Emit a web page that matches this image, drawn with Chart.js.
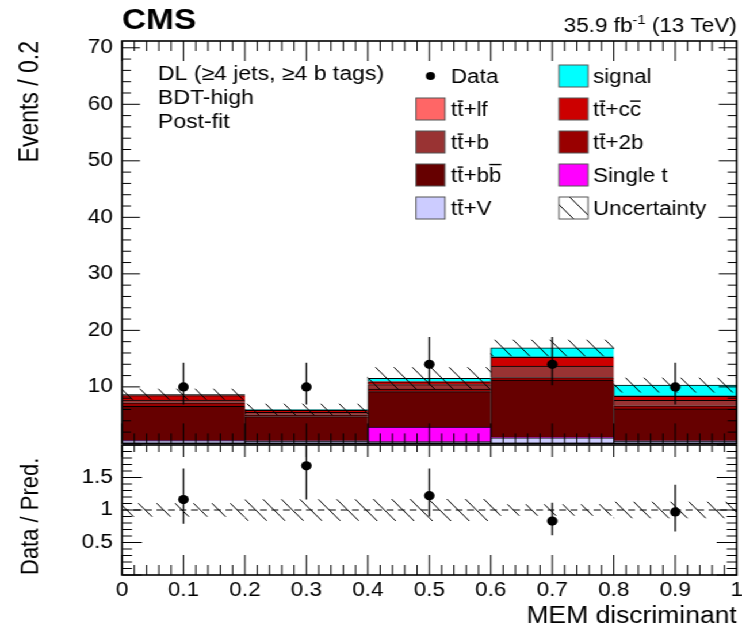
<!DOCTYPE html>
<html><head><meta charset="utf-8">
<script src="https://cdn.jsdelivr.net/npm/chart.js@4.4.1/dist/chart.umd.min.js"></script>
<style>
html,body{margin:0;padding:0;background:#fff;overflow:hidden;}
#wrap{position:absolute;left:0;top:0;width:645px;height:632px;transform-origin:0 0;transform:scaleX(1.150388);}
#wrap canvas{position:absolute;left:0;}
</style></head><body>
<div id="wrap">
<canvas id="cMain" width="645" height="448" style="top:0;width:645px;height:448px"></canvas>
<canvas id="cRatio" width="645" height="192" style="top:440px;width:645px;height:192px"></canvas>
</div>
<script>
// ---------------- data ----------------
const binCenters = [0.1, 0.3, 0.5, 0.7, 0.9];
const xTickLabels = ['0','0.1','0.2','0.3','0.4','0.5','0.6','0.7','0.8','0.9','1'];
const yTickLabels = ['10','20','30','40','50','60','70'];
const ratioTickLabels = ['0.5','1','1.5'];

// stacked components, bottom to top
const ttV     = [0.5, 0.4, 0.3, 1.0, 0.4];
const singleT = [0.05, 0.05, 2.6, 0.1, 0.05];
const ttbb    = [6.0, 4.3, 6.25, 10.1, 5.65];
const tt2b    = [0.65, 0.3, 0.45, 0.45, 0.55];
const ttb     = [0.45, 0.45, 0.8, 2.05, 0.95];
const ttcc    = [0.8, 0.35, 0.5, 1.55, 0.75];
const ttlf    = [0.2, 0.1, 0.05, 0.05, 0.05];
const signal  = [0.05, 0.05, 0.55, 1.6, 1.9];

const predUnc = [0.9, 0.95, 1.9, 1.4, 1.25];

const dataY     = [10, 10, 14, 14, 10];
const dataErrLo = [3.12, 3.12, 3.71, 3.71, 3.12];
const dataErrHi = [4.28, 4.28, 4.84, 4.84, 4.28];

const ratio    = [1.16, 1.68, 1.22, 0.83, 0.97];
const ratioLo  = [0.79, 1.16, 0.90, 0.61, 0.67];
const ratioHi  = [1.64, 2.40, 1.64, 1.11, 1.39];
const ratioUnc = [0.10, 0.16, 0.165, 0.083, 0.12];

const components = [
  {label:'tt\u0304+V',      vals:ttV,     color:'#ccccff'},
  {label:'Single t',        vals:singleT, color:'#ff00ff'},
  {label:'tt\u0304+bb\u0304', vals:ttbb,  color:'#660000'},
  {label:'tt\u0304+2b',     vals:tt2b,    color:'#990000'},
  {label:'tt\u0304+b',      vals:ttb,     color:'#993333'},
  {label:'tt\u0304+cc\u0304', vals:ttcc,  color:'#cc0000'},
  {label:'tt\u0304+lf',     vals:ttlf,    color:'#ff6666'},
  {label:'signal',          vals:signal,  color:'#00ffff'}
];

// ---------------- helpers ----------------
const FF = "'Liberation Sans', Arial, Helvetica, sans-serif";
const SX = 742/645;               // horizontal stretch of the picture
const bx = v => v / SX;           // picture x-distance -> base canvas distance

function makeHatch(canvasId) {
  const w = 16, h = 18;
  const c = document.createElement('canvas'); c.width = w; c.height = h;
  const g = c.getContext('2d');
  g.strokeStyle = '#000'; g.lineWidth = 1;
  g.beginPath();
  for (const dx of [-w, 0, w]) { g.moveTo(dx, 0); g.lineTo(dx + w, h); }
  g.stroke();
  return document.getElementById(canvasId).getContext('2d').createPattern(c, 'repeat');
}

function drawLabel(ctx, str, x, y, size) {
  // draws text; a combining macron (U+0304) becomes an over-bar on the previous glyph
  ctx.font = size + 'px ' + FF;
  ctx.textAlign = 'left'; ctx.textBaseline = 'alphabetic';
  let cx = x;
  const chars = Array.from(str);
  for (let i = 0; i < chars.length; i++) {
    const ch = chars[i];
    if (ch === '\u0304') continue;
    const w = ctx.measureText(ch).width;
    ctx.fillText(ch, cx, y);
    if (chars[i+1] === '\u0304') {
      const by = y - size * (ch === 'b' ? 0.93 : 0.80);
      ctx.fillRect(cx + 0.3, by, w - 0.6, 1.4);
    }
    cx += w;
  }
}

function drawFrame(chart, cfg) {
  const {ctx, chartArea: a} = chart;
  const xs = chart.scales.x, ys = chart.scales.y;
  ctx.save();
  ctx.strokeStyle = '#000';
  ctx.lineWidth = 1;
  ctx.beginPath();
  for (let k = 0; k <= 50; k++) {
    const px = xs.getPixelForValue(k / 50);
    const maj = k % 5 === 0;
    ctx.moveTo(px, a.bottom); ctx.lineTo(px, a.bottom - (maj ? cfg.xMajB : cfg.xMinB));
    ctx.moveTo(px, a.top);    ctx.lineTo(px, a.top + (maj ? cfg.xMajT : cfg.xMinT));
  }
  for (let k = 0; k <= cfg.yN; k++) {
    const py = ys.getPixelForValue(k * cfg.yStep);
    const maj = k % cfg.yEvery === 0;
    const L = maj ? cfg.yMaj : cfg.yMin;
    ctx.moveTo(a.left, py);  ctx.lineTo(a.left + L, py);
    ctx.moveTo(a.right, py); ctx.lineTo(a.right - L, py);
  }
  ctx.stroke();
  ctx.lineWidth = 1.6;
  ctx.strokeRect(a.left, a.top, a.right - a.left, a.bottom - a.top);
  ctx.restore();
}

function drawErrors(chart, ys, lo, hi) {
  const {ctx, chartArea: a} = chart;
  const xs = chart.scales.x, sc = chart.scales.y;
  ctx.save();
  ctx.beginPath(); ctx.rect(a.left, a.top, a.right - a.left, a.bottom - a.top); ctx.clip();
  ctx.strokeStyle = '#000'; ctx.lineWidth = 1.3;
  ctx.beginPath();
  for (let i = 0; i < ys.length; i++) {
    const px = xs.getPixelForValue(binCenters[i]);
    ctx.moveTo(px, sc.getPixelForValue(lo[i]));
    ctx.lineTo(px, sc.getPixelForValue(hi[i]));
  }
  ctx.stroke();
  ctx.restore();
}

// ---------------- main panel ----------------
const hatchMain = makeHatch('cMain');
const hatchRatio = makeHatch('cRatio');

const cum = binCenters.map(() => 0);
const stackDatasets = components.map((c, k) => {
  const data = binCenters.map((x, i) => { const lo = cum[i]; cum[i] += c.vals[i]; return {x: x, y: [lo, cum[i]]}; });
  return {
    type: 'bar', label: c.label, data: data,
    backgroundColor: c.color, borderColor: '#000',
    borderWidth: {top: 1, left: 1, right: 0, bottom: 0}, borderSkipped: false,
    grouped: false, barPercentage: 1, categoryPercentage: 1, order: 10 + k
  };
});
const totals = cum.slice();

const uncDataset = {
  type: 'bar', label: 'Uncertainty',
  data: binCenters.map((x, i) => ({x: x, y: [totals[i] - predUnc[i], totals[i] + predUnc[i]]})),
  backgroundColor: hatchMain, borderWidth: 0,
  grouped: false, barPercentage: 1, categoryPercentage: 1, order: 5
};
const dataDataset = {
  type: 'scatter', label: 'Data',
  data: binCenters.map((x, i) => ({x: x, y: dataY[i]})),
  pointRadius: 4.6, pointBackgroundColor: '#000', pointBorderWidth: 0, order: 0
};

const legendEntries = [
  {label: 'Data', kind: 'dot', col: 0, row: 0},
  {label: 'signal', kind: 'box', color: '#00ffff', col: 1, row: 0},
  {label: 'tt\u0304+lf', kind: 'box', color: '#ff6666', col: 0, row: 1},
  {label: 'tt\u0304+cc\u0304', kind: 'box', color: '#cc0000', col: 1, row: 1},
  {label: 'tt\u0304+b', kind: 'box', color: '#993333', col: 0, row: 2},
  {label: 'tt\u0304+2b', kind: 'box', color: '#990000', col: 1, row: 2},
  {label: 'tt\u0304+bb\u0304', kind: 'box', color: '#660000', col: 0, row: 3},
  {label: 'Single t', kind: 'box', color: '#ff00ff', col: 1, row: 3},
  {label: 'tt\u0304+V', kind: 'box', color: '#ccccff', col: 0, row: 4},
  {label: 'Uncertainty', kind: 'hatch', col: 1, row: 4}
];

const mainPlugin = {
  id: 'mainDeco',
  afterDatasetsDraw(chart) {
    drawErrors(chart, dataY, dataY.map((v, i) => v - dataErrLo[i]), dataY.map((v, i) => v + dataErrHi[i]));
    drawFrame(chart, {xMajB: 20, xMinB: 10, xMajT: 20, xMinT: 10, yN: 35, yStep: 2, yEvery: 5, yMaj: bx(18), yMin: bx(9)});
  },
  afterDraw(chart) {
    const ctx = chart.ctx;
    const a = chart.chartArea;
    ctx.save();
    ctx.fillStyle = '#000';
    // CMS label
    ctx.font = 'bold 29px ' + FF; ctx.textAlign = 'left'; ctx.textBaseline = 'alphabetic';
    ctx.fillText('CMS', a.left, 29);
    // luminosity label
    const s1 = '35.9 fb', s2 = '-1', s3 = ' (13 TeV)';
    ctx.font = '19.5px ' + FF; const w1 = ctx.measureText(s1).width, w3 = ctx.measureText(s3).width;
    ctx.font = '13px ' + FF; const w2 = ctx.measureText(s2).width;
    let xx = a.right - w1 - w2 - w3;
    ctx.font = '19.5px ' + FF; ctx.fillText(s1, xx, 32); xx += w1;
    ctx.font = '13px ' + FF; ctx.fillText(s2, xx, 24); xx += w2;
    ctx.font = '19.5px ' + FF; ctx.fillText(s3, xx, 32);
    // category text
    const tx = bx(158);
    ctx.font = '20px ' + FF; ctx.textBaseline = 'middle';
    ctx.fillText('DL (\u22654 jets, \u22654 b tags)', tx, 74);
    ctx.fillText('BDT-high', tx, 98);
    ctx.fillText('Post-fit', tx, 122);
    // legend
    const boxX = [bx(416), bx(559)], textX = [bx(451), bx(593)];
    const rowY = [76, 109, 142, 175, 208];
    const bw = bx(29), bh = 22;
    for (const e of legendEntries) {
      const cy = rowY[e.row];
      const x0 = boxX[e.col];
      if (e.kind === 'dot') {
        ctx.beginPath(); ctx.arc(x0 + bw / 2, cy, 4, 0, Math.PI * 2); ctx.fill();
      } else {
        ctx.fillStyle = e.kind === 'hatch' ? hatchMain : e.color;
        ctx.fillRect(x0, cy - bh / 2, bw, bh);
        ctx.strokeStyle = '#555'; ctx.lineWidth = 1;
        ctx.strokeRect(x0, cy - bh / 2, bw, bh);
        ctx.fillStyle = '#000';
      }
      drawLabel(ctx, e.label, textX[e.col], cy + 7, 19.5);
    }
    ctx.restore();
  }
};

new Chart(document.getElementById('cMain'), {
  type: 'bar',
  data: {datasets: [dataDataset, uncDataset, ...stackDatasets]},
  options: {
    responsive: false, animation: false, devicePixelRatio: 1, events: [],
    layout: {padding: {top: 41, right: 645 - bx(737), bottom: 3, left: 0}},
    plugins: {legend: {display: false}, tooltip: {enabled: false}},
    scales: {
      x: {type: 'linear', min: 0, max: 1, offset: false, display: false, ticks: {stepSize: 0.2}, grid: {offset: false}},
      y: {
        type: 'linear', min: 0, max: 71.2,
        grid: {display: false, drawTicks: false}, border: {display: false},
        ticks: {stepSize: 10, includeBounds: false, padding: 8, color: '#000', font: {family: FF, size: 19.5},
                callback: (v, i) => i === 0 ? '' : yTickLabels[i - 1]},
        title: {display: true, text: 'Events / 0.2', align: 'end', color: '#000', font: {family: FF, size: 23}, padding: {top: 13, bottom: 0}},
        afterFit: s => { s.width = bx(122); s.paddingTop = 0; s.paddingBottom = 0; }
      }
    }
  },
  plugins: [mainPlugin]
});

// ---------------- ratio panel ----------------
const ratioUncDataset = {
  type: 'bar', label: 'Uncertainty', xAxisID: 'xb',
  data: binCenters.map((x, i) => ({x: x, y: [1 - ratioUnc[i], 1 + ratioUnc[i]]})),
  backgroundColor: hatchRatio, borderWidth: 0,
  grouped: false, barPercentage: 1, categoryPercentage: 1, order: 5
};
const unityLine = {
  type: 'line', label: 'unity', xAxisID: 'x',
  data: [{x: 0, y: 1}, {x: 1, y: 1}],
  borderColor: '#000', borderWidth: 1, borderDash: [6, 4], pointRadius: 0, fill: false, order: 2
};
const ratioPoints = {
  type: 'scatter', label: 'Data / Pred.', xAxisID: 'x',
  data: binCenters.map((x, i) => ({x: x, y: ratio[i]})),
  pointRadius: 4.6, pointBackgroundColor: '#000', pointBorderWidth: 0, order: 0
};

const ratioPlugin = {
  id: 'ratioDeco',
  afterDatasetsDraw(chart) {
    drawErrors(chart, ratio, ratioLo, ratioHi);
    drawFrame(chart, {xMajB: 20, xMinB: 10, xMajT: 12, xMinT: 7, yN: 20, yStep: 0.1, yEvery: 5, yMaj: bx(20), yMin: bx(10)});
  }
};

new Chart(document.getElementById('cRatio'), {
  type: 'bar',
  data: {datasets: [ratioPoints, unityLine, ratioUncDataset]},
  options: {
    responsive: false, animation: false, devicePixelRatio: 1, events: [],
    layout: {padding: {top: 5, right: 645 - bx(737), bottom: 0, left: 0}},
    plugins: {legend: {display: false}, tooltip: {enabled: false}},
    scales: {
      x: {
        type: 'linear', min: 0, max: 1, offset: false,
        grid: {display: false, drawTicks: false, offset: false}, border: {display: false},
        ticks: {stepSize: 0.1, autoSkip: false, maxRotation: 0, padding: 4, color: '#000', font: {family: FF, size: 19.5},
                callback: (v, i) => xTickLabels[i]},
        title: {display: true, text: 'MEM discriminant', align: 'end', color: '#000', font: {family: FF, size: 23}, padding: {top: 0, bottom: 2}},
        afterFit: s => { s.height = 57; s.paddingLeft = 0; s.paddingRight = 0; }
      },
      xb: {type: 'linear', min: 0, max: 1, offset: false, display: false, ticks: {stepSize: 0.2}, grid: {offset: false}},
      y: {
        type: 'linear', min: 0, max: 2,
        grid: {display: false, drawTicks: false}, border: {display: false},
        ticks: {stepSize: 0.5, includeBounds: false, padding: 8, color: '#000', font: {family: FF, size: 19.5},
                callback: (v, i) => (i >= 1 && i <= 3) ? ratioTickLabels[i - 1] : ''},
        title: {display: true, text: 'Data / Pred.', align: 'start', color: '#000', font: {family: FF, size: 22}, padding: {top: 14, bottom: 0}},
        afterFit: s => { s.width = bx(122); s.paddingTop = 0; s.paddingBottom = 0; }
      }
    }
  },
  plugins: [ratioPlugin]
});
</script>
</body></html>
